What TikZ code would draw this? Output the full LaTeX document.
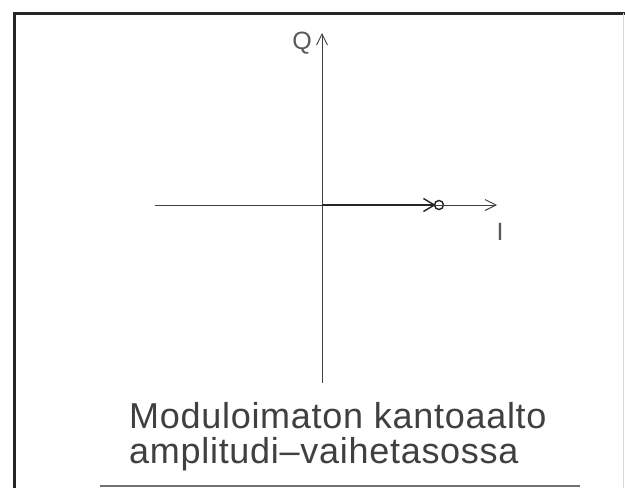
\documentclass[tikz,border=0pt]{standalone}
\usepackage{fontspec}
\setmainfont{Liberation Sans}
\newfontfamily\captionfont[LetterSpace=2]{Liberation Sans}
\usetikzlibrary{arrows.meta, positioning}

\begin{document}
\begin{tikzpicture}[
        x=1pt, y=-1pt,
        frame/.style={line width=3pt, draw=black!85},
        axis/.style={-{Straight Barb[length=11pt, width=11pt]}, line width=0.9pt, draw=black!75},
        carrier/.style={-{Straight Barb[length=11pt, width=13pt]}, line width=1.4pt, draw=black!85, shorten >=-2pt},
        point/.style={circle, draw=black!85, line width=1.4pt, minimum size=9pt, inner sep=0pt},
        axislabel/.style={font=\fontsize{25}{25}\selectfont, text=black!65, inner sep=0pt},
        caption/.style={font=\captionfont\fontsize{36}{36}\selectfont, text=black!75, align=left, inner sep=0pt}
    ]
        \useasboundingbox (0,0) rectangle (625,488);
        \fill[white] (0,0) rectangle (625,488);

        % frame
        \draw[frame] (14,490) -- (14,13) -- (627,13);
        \draw[line width=1pt, draw=black!15] (623,13) -- (623,488);
        \draw[line width=2pt, draw=black!55] (100,486) -- (580,486);

        % axes
        \coordinate (origin) at (322,205);
        \coordinate (west) at (155,205);
        \coordinate (east) at (497,205);
        \coordinate (north) at (322,33);
        \coordinate (south) at (322,383);
        \node[point] (carrierpt) at (439,205) {};

        \draw[axis] (west) -- (east);
        \draw[axis] (south) -- (north);
        \draw[carrier] (origin) -- (carrierpt);

        \node[axislabel] (qlabel) at (302,43) {Q};
        \node[axislabel] (ilabel) at (500,232) {I};

        \node[caption, anchor=base west] (title1) at (129,428) {Moduloimaton kantoaalto};
        \node[caption, anchor=base west] (title2) at (129,463) {amplitudi–vaihetasossa};
    \end{tikzpicture}
\end{document}
